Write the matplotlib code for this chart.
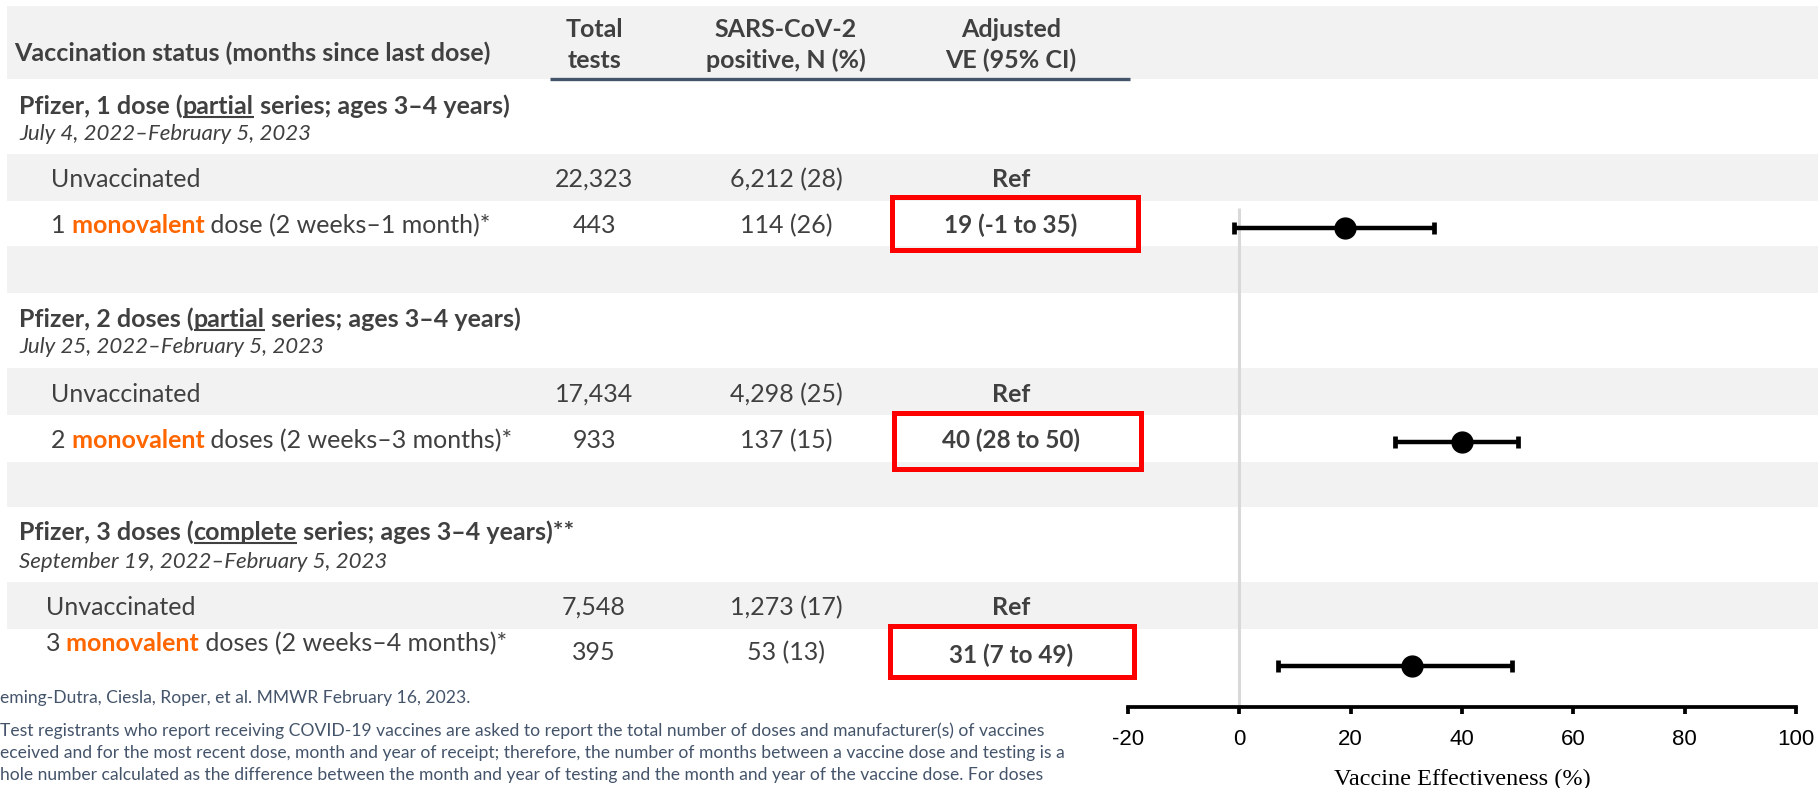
import matplotlib
matplotlib.use("Agg")
import matplotlib.pyplot as plt
from matplotlib.patches import Rectangle

# ---------------- data ----------------
group_names = ["Pfizer, 1 dose (", "Pfizer, 2 doses (", "Pfizer, 3 doses ("]
series_kind = ["partial", "partial", "complete"]
group_tail = [" series; ages 3–4 years)", " series; ages 3–4 years)", " series; ages 3–4 years)**"]
date_ranges = ["July 4, 2022–February 5, 2023",
               "July 25, 2022–February 5, 2023",
               "September 19, 2022–February 5, 2023"]
dose_count = ["1", "2", "3"]
dose_tail = [" dose (2 weeks–1 month)*", " doses (2 weeks–3 months)*", " doses (2 weeks–4 months)*"]
unvax_label = "Unvaccinated"
unvax_tests = ["22,323", "17,434", "7,548"]
unvax_pos = ["6,212 (28)", "4,298 (25)", "1,273 (17)"]
vax_tests = ["443", "933", "395"]
vax_pos = ["114 (26)", "137 (15)", "53 (13)"]
ve = [19, 40, 31]
ve_lo = [-1, 28, 7]
ve_hi = [35, 50, 49]
x_ticks = [-20, 0, 20, 40, 60, 80, 100]
headers = ["Vaccination status (months since last dose)", ("Total", "tests"),
           ("SARS-CoV-2", "positive, N (%)"), ("Adjusted", "VE (95% CI)")]
footnotes = [
    "eming-Dutra, Ciesla, Roper, et al. MMWR February 16, 2023.",
    "Test registrants who report receiving COVID-19 vaccines are asked to report the total number of doses and manufacturer(s) of vaccines",
    "eceived and for the most recent dose, month and year of receipt; therefore, the number of months between a vaccine dose and testing is a",
    "hole number calculated as the difference between the month and year of testing and the month and year of the vaccine dose. For doses",
]

# ---------------- layout (pixels from top-left) ----------------
W, H = 1818, 788
TXT = "#404040"
ORANGE = "#FF6600"
GRAY = "#F2F2F2"
FONT = "Lato"
BODY = 18
DATE = 16
FOOT = 12.6
col_x = [594, 786, 1011]
bands = [(6, 79), (154, 201), (246, 293), (368, 415), (462, 507), (582, 629)]
title_x = 19
title_base = [114, 327, 540]
date_base = [140, 353, 568]
unvax_base = [187, 402, 615]
vax_base = [233, 448, 651]
vax_num_base = [233, 448, 660]
ve_base = [233, 448, 663]
label_x = [51, 51, 46]
bar_y = [228, 442, 666]
boxes = [(892, 197, 1138, 250), (894, 413, 1141, 469), (890, 626, 1134, 677)]
foot_base = [703, 736, 758, 780]

plt.rcParams["font.family"] = [FONT, "DejaVu Sans"]
fig = plt.figure(figsize=(W / 100, H / 100), dpi=100)
ax = fig.add_axes([0, 0, 1, 1])
ax.set_xlim(0, W)
ax.set_ylim(H, 0)
ax.axis("off")
renderer = fig.canvas.get_renderer()

for y0, y1 in bands:
    ax.add_patch(Rectangle((7, y0), W - 7, y1 - y0, color=GRAY, lw=0, zorder=0))
ax.plot([550, 1130], [79, 79], color="#44546A", lw=2.4, solid_capstyle="butt", zorder=2)


def rich(x, y, pieces, size):
    cur = x
    arts = []
    for s, props in pieces:
        kw = dict(color=TXT)
        kw.update(props)
        underline = kw.pop("underline", False)
        t = ax.text(cur, y, s, fontsize=size, va="baseline", ha="left", **kw)
        bb = t.get_window_extent(renderer=renderer)
        if underline:
            ax.plot([bb.x0, bb.x1], [y + 3, y + 3], color=kw["color"], lw=1.5,
                    solid_capstyle="butt")
        cur += bb.width
        arts.append(t)
    return arts


# header
ax.text(14, 61, headers[0], fontsize=BODY, fontweight="bold", color=TXT, va="baseline")
for cx, (l1, l2) in zip(col_x, headers[1:]):
    ax.text(cx, 37, l1, fontsize=BODY, fontweight="bold", color=TXT, ha="center", va="baseline")
    ax.text(cx, 68, l2, fontsize=BODY, fontweight="bold", color=TXT, ha="center", va="baseline")

for i in range(3):
    rich(title_x, title_base[i], [(group_names[i], dict(fontweight="bold")),
                                 (series_kind[i], dict(fontweight="bold", underline=True)),
                                 (group_tail[i], dict(fontweight="bold"))], BODY)
    ax.text(title_x, date_base[i], date_ranges[i], fontsize=DATE, style="italic", color=TXT,
            va="baseline")
    # unvaccinated row
    ax.text(label_x[i], unvax_base[i], unvax_label, fontsize=BODY, color=TXT, va="baseline")
    ax.text(col_x[0], unvax_base[i], unvax_tests[i], fontsize=BODY, color=TXT, ha="center", va="baseline")
    ax.text(col_x[1], unvax_base[i], unvax_pos[i], fontsize=BODY, color=TXT, ha="center", va="baseline")
    ax.text(col_x[2], unvax_base[i], "Ref", fontsize=BODY, fontweight="bold", color=TXT, ha="center", va="baseline")
    # vaccinated row
    rich(label_x[i], vax_base[i], [(dose_count[i], {}),
                                   (" monovalent", dict(fontweight="bold", color=ORANGE)),
                                   (dose_tail[i], {})], BODY)
    ax.text(col_x[0], vax_num_base[i], vax_tests[i], fontsize=BODY, color=TXT, ha="center", va="baseline")
    ax.text(col_x[1], vax_num_base[i], vax_pos[i], fontsize=BODY, color=TXT, ha="center", va="baseline")
    ax.text(col_x[2], ve_base[i], f"{ve[i]} ({ve_lo[i]} to {ve_hi[i]})", fontsize=17.5,
            fontweight="bold", color=TXT, ha="center", va="baseline")
    x0, y0, x1, y1 = boxes[i]
    ax.add_patch(Rectangle((x0, y0), x1 - x0, y1 - y0, fill=False, edgecolor="#FF0000",
                           lw=3.6, zorder=3))

for yb, s in zip(foot_base, footnotes):
    ax.text(0, yb, s, fontsize=FOOT, color="#44546A", va="baseline")

# ---------------- forest plot ----------------
AX_L, AX_R, AX_B = 1128, 1796, 707
LABEL_TOP = 769
axf = fig.add_axes([AX_L / W, (H - AX_B) / H, (AX_R - AX_L) / W, AX_B / H])
axf.patch.set_alpha(0)
axf.set_xlim(-20, 100)
axf.set_ylim(AX_B, 0)
for s in ["left", "right", "top"]:
    axf.spines[s].set_visible(False)
axf.spines["bottom"].set_linewidth(2.7)
axf.spines["bottom"].set_color("black")
axf.set_yticks([])
axf.set_xticks(x_ticks)
axf.set_xticklabels([str(t) for t in x_ticks], fontfamily="Liberation Sans")
axf.tick_params(axis="x", length=5, width=2.7, direction="out", labelsize=16, pad=11,
                colors="black")
axf.plot([0, 0], [208, AX_B], color="#D9D9D9", lw=2.2, zorder=0, solid_capstyle="butt")
xerr = [[v - lo for v, lo in zip(ve, ve_lo)], [hi - v for v, hi in zip(ve, ve_hi)]]
axf.errorbar(ve, bar_y, xerr=xerr, fmt="o", color="black", ms=15, elinewidth=3.2,
             capsize=4.3, capthick=3.4, zorder=3)
axf.set_xlabel("Vaccine Effectiveness (%)", fontfamily="Liberation Serif", fontsize=17.5,
               color="black")
axf.xaxis.set_label_coords(0.5, -(LABEL_TOP - AX_B) / AX_B)

fig.savefig("out.png", dpi=100)
